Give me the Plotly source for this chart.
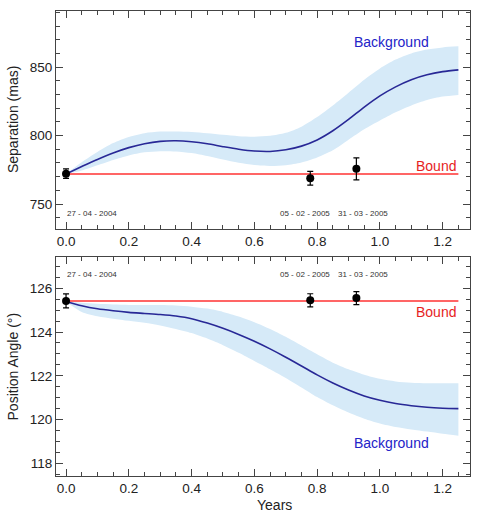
import plotly.graph_objects as go

# ---------------- data ----------------
grid_years = [0.0, 0.05, 0.1, 0.15, 0.2, 0.25, 0.3, 0.35, 0.4, 0.45, 0.5, 0.55, 0.6,
              0.65, 0.7, 0.75, 0.8, 0.85, 0.9, 0.95, 1.0, 1.05, 1.1, 1.15, 1.2, 1.25]

sep_bg = [772, 777.4, 782.6, 787.3, 791.2, 794.1, 795.8, 796.2, 795.5, 794.0, 791.9, 790.0, 788.7,
          788.4, 789.6, 792.3, 796.8, 803.5, 811.8, 820.8, 829.0, 835.6, 840.8, 844.4, 846.7, 848]
sep_bg_hi = [772, 780.5, 788, 794.5, 799, 801.7, 802.9, 803.0, 802.6, 801.7, 800.6, 799.6, 799.2,
             799.8, 802.0, 806.5, 813.5, 822, 831.3, 840.8, 849.0, 855.5, 860.0, 862.8, 864.4, 865.2]
sep_bg_lo = [772, 774.5, 778.3, 782.2, 785.5, 787.8, 788.6, 788.4, 787.2, 785.0, 782.5, 780.2, 778.5,
             777.8, 778.3, 780.3, 784.0, 789.3, 797.0, 804.6, 811.0, 817.0, 822.0, 826.0, 828.5, 829.7]

pa_bg = [125.4, 125.2, 125.06, 124.97, 124.9, 124.85, 124.8, 124.73, 124.61, 124.41, 124.17,
         123.89, 123.58, 123.23, 122.85, 122.45, 122.04, 121.67, 121.35, 121.08, 120.88,
         120.73, 120.63, 120.56, 120.52, 120.5]
pa_bg_hi = [125.4, 125.34, 125.29, 125.26, 125.24, 125.24, 125.23, 125.21, 125.16, 125.07, 124.92,
            124.71, 124.45, 124.14, 123.78, 123.38, 122.98, 122.6, 122.3, 122.05, 121.86,
            121.74, 121.68, 121.66, 121.66, 121.66]
pa_bg_lo = [125.4, 124.92, 124.72, 124.61, 124.51, 124.42, 124.3, 124.14, 123.95, 123.7, 123.4,
            123.05, 122.68, 122.3, 121.9, 121.47, 121.03, 120.65, 120.32, 120.04, 119.82,
            119.66, 119.55, 119.45, 119.35, 119.26]

bound_years = [0.0, 1.25]
sep_bound = 772.0
pa_bound = 125.42

obs_years = [0.0, 0.778, 0.925]
obs_dates = ["27 - 04 - 2004", "05 - 02 - 2005", "31 - 03 - 2005"]
sep_obs = [772.2, 768.8, 775.7]
sep_err = [3.5, 5.0, 8.0]
pa_obs = [125.42, 125.45, 125.55]
pa_err = [0.32, 0.3, 0.3]

x_ticks = [0.0, 0.2, 0.4, 0.6, 0.8, 1.0, 1.2]

# ---------------- styles ----------------
FONT = "Liberation Sans, Arial, Helvetica, sans-serif"
BAND = "rgb(214,234,248)"
BG_LINE = "rgb(40,40,150)"
BG_TEXT = "rgb(35,35,200)"
RED = "rgb(255,50,50)"
RED_TEXT = "rgb(230,30,30)"
AX = "#444444"

fig = go.Figure()

def add_panel(xa, ya, bg, hi, lo, bound, obs, err):
    fig.add_trace(go.Scatter(x=grid_years, y=hi, mode="lines",
                             line=dict(width=0, shape="spline", smoothing=0.8),
                             xaxis=xa, yaxis=ya, showlegend=False, hoverinfo="skip"))
    fig.add_trace(go.Scatter(x=grid_years, y=lo, mode="lines",
                             line=dict(width=0, shape="spline", smoothing=0.8),
                             fill="tonexty", fillcolor=BAND,
                             xaxis=xa, yaxis=ya, showlegend=False, hoverinfo="skip"))
    fig.add_trace(go.Scatter(x=grid_years, y=bg, mode="lines",
                             line=dict(color=BG_LINE, width=1.6, shape="spline", smoothing=0.8),
                             xaxis=xa, yaxis=ya, showlegend=False))
    fig.add_trace(go.Scatter(x=bound_years, y=[bound, bound], mode="lines",
                             line=dict(color=RED, width=1.5),
                             xaxis=xa, yaxis=ya, showlegend=False))
    fig.add_trace(go.Scatter(x=obs_years, y=obs, mode="markers",
                             marker=dict(color="black", size=8),
                             error_y=dict(type="data", array=err, color="black",
                                          thickness=1.2, width=3),
                             xaxis=xa, yaxis=ya, showlegend=False))

add_panel("x", "y", sep_bg, sep_bg_hi, sep_bg_lo, sep_bound, sep_obs, sep_err)
add_panel("x2", "y2", pa_bg, pa_bg_hi, pa_bg_lo, pa_bound, pa_obs, pa_err)

common_x = dict(range=[-0.032, 1.287], tickvals=x_ticks, tickformat=".1f",
                ticks="inside", ticklen=7, tickcolor=AX, tickwidth=1,
                minor=dict(dtick=0.05, ticks="inside", ticklen=4, tickcolor=AX),
                showline=True, linecolor=AX, linewidth=1, mirror="ticks",
                showgrid=False, zeroline=False,
                tickfont=dict(size=13.5, color="#222"))

common_y = dict(ticks="inside", ticklen=7, tickcolor=AX, tickwidth=1,
                showline=True, linecolor=AX, linewidth=1, mirror="ticks",
                showgrid=False, zeroline=False,
                tickfont=dict(size=13.5, color="#222"))

fig.update_layout(
    width=480, height=517,
    margin=dict(l=56, r=10, t=11, b=41),
    paper_bgcolor="white", plot_bgcolor="white",
    font=dict(family=FONT, color="#222"),
    xaxis=dict(common_x, domain=[0, 1], anchor="y"),
    yaxis=dict(common_y, domain=[0.531, 1], range=[731.7, 891], tickvals=[750, 800, 850],
               minor=dict(dtick=10, ticks="inside", ticklen=4, tickcolor=AX), anchor="x"),
    xaxis2=dict(common_x, domain=[0, 1], anchor="y2"),
    yaxis2=dict(common_y, domain=[0, 0.471], range=[117.42, 127.43],
                tickvals=[118, 120, 122, 124, 126],
                minor=dict(dtick=0.5, ticks="inside", ticklen=4, tickcolor=AX), anchor="x2"),
)

ann = []
# axis titles
ann.append(dict(text="Separation (mas)", xref="paper", yref="paper", x=0, y=(0.531 + 1) / 2,
                xshift=-43, textangle=-90, showarrow=False, xanchor="center", yanchor="middle",
                font=dict(size=14, color="#222")))
ann.append(dict(text="Position Angle (°)", xref="paper", yref="paper", x=0, y=0.471 / 2,
                xshift=-43, textangle=-90, showarrow=False, xanchor="center", yanchor="middle",
                font=dict(size=14, color="#222")))
ann.append(dict(text="Years", xref="paper", yref="paper", x=0.527, y=0, yshift=-29,
                showarrow=False, xanchor="center", yanchor="middle",
                font=dict(size=14, color="#222")))
# curve labels
ann.append(dict(text="Background", xref="x", yref="y", x=1.037, y=868, showarrow=False,
                font=dict(size=14, color=BG_TEXT)))
ann.append(dict(text="Bound", xref="x", yref="y", x=1.18, y=778, showarrow=False,
                font=dict(size=14, color=RED_TEXT)))
ann.append(dict(text="Bound", xref="x2", yref="y2", x=1.18, y=124.93, showarrow=False,
                font=dict(size=14, color=RED_TEXT)))
ann.append(dict(text="Background", xref="x2", yref="y2", x=1.037, y=118.91, showarrow=False,
                font=dict(size=14, color=BG_TEXT)))
# dates
date_x = [0.082, 0.761, 0.945]
for dx, d in zip(date_x, obs_dates):
    ann.append(dict(text=d, xref="x", yref="y", x=dx, y=743, showarrow=False,
                    font=dict(size=8, color="#333")))
    ann.append(dict(text=d, xref="x2", yref="y2", x=dx, y=126.64, showarrow=False,
                    font=dict(size=8, color="#333")))
fig.update_layout(annotations=ann)

fig.write_html("out.html")
